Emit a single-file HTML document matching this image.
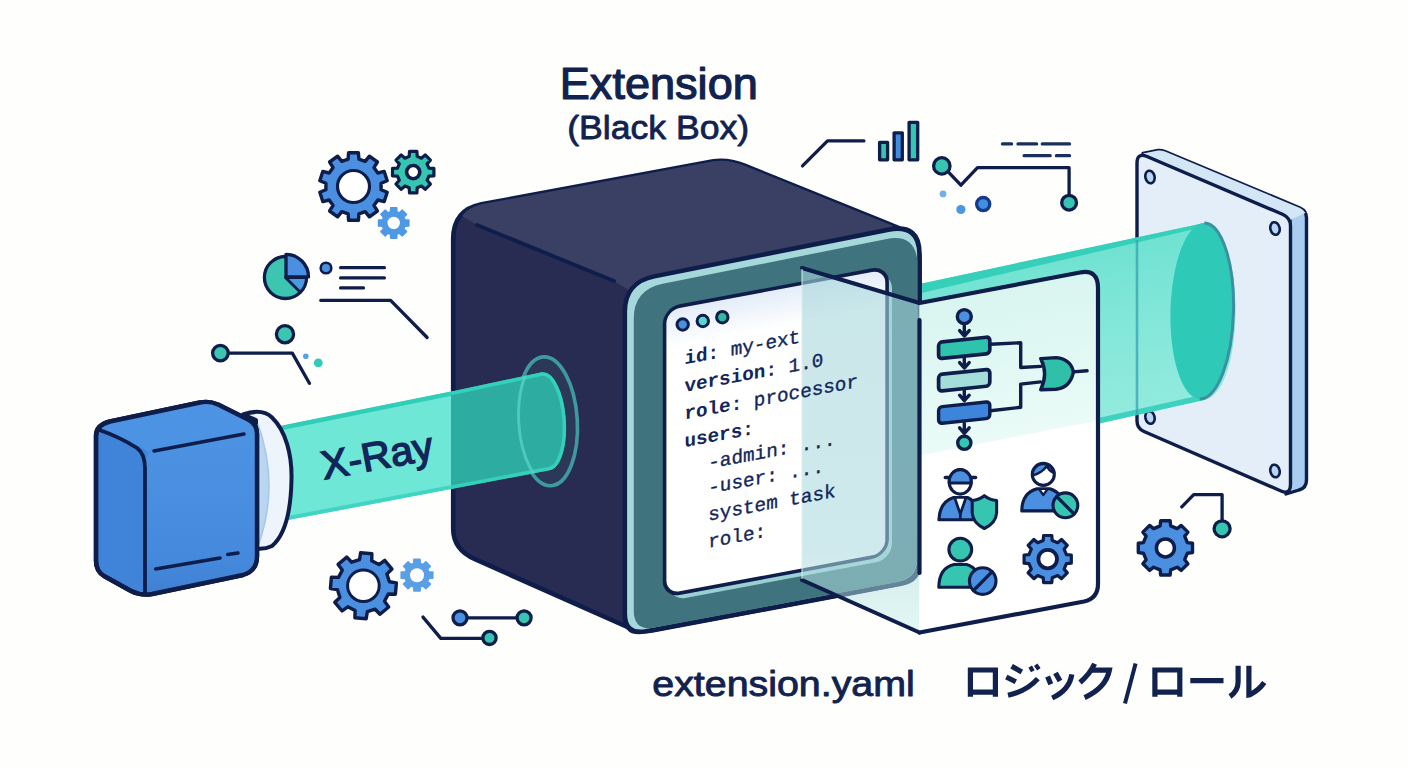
<!DOCTYPE html>
<html lang="en"><head><meta charset="utf-8"><title>Extension (Black Box)</title>
<style>
html,body{margin:0;padding:0;background:#fefefd;}
body{width:1408px;height:768px;overflow:hidden;font-family:"Liberation Sans",sans-serif;}
svg{display:block;}
</style></head><body>
<svg width="1408" height="768" viewBox="0 0 1408 768">
<rect width="1408" height="768" fill="#fefefd"/>
<defs>
<linearGradient id="beam1" x1="0" y1="0" x2="0.18" y2="1">
 <stop offset="0" stop-color="#3fd6c2"/><stop offset=".5" stop-color="#62e2d0"/><stop offset="1" stop-color="#7deadb"/>
</linearGradient>
<linearGradient id="beam2" x1="0" y1="0" x2="0.2" y2="1">
 <stop offset="0" stop-color="#62dfcd"/><stop offset=".45" stop-color="#7fe6d7"/><stop offset="1" stop-color="#97ecdf"/>
</linearGradient>
<linearGradient id="scr" x1="0" y1="0" x2="0" y2="1">
 <stop offset="0" stop-color="#e2ecf8"/><stop offset=".14" stop-color="#ffffff"/><stop offset="1" stop-color="#ffffff"/>
</linearGradient>
<linearGradient id="glassL" x1="0" y1="0" x2="0" y2="1">
 <stop offset="0" stop-color="#a6d6db" stop-opacity=".60"/><stop offset=".78" stop-color="#abdadf" stop-opacity=".57"/><stop offset=".9" stop-color="#b8e6e4" stop-opacity=".50"/><stop offset="1" stop-color="#c4eeea" stop-opacity=".45"/>
</linearGradient>
<linearGradient id="tint" x1="0" y1="0" x2="0.19" y2="1">
 <stop offset="0" stop-color="#d6f4ee"/><stop offset=".55" stop-color="#e0f8f3"/><stop offset="1" stop-color="#ecfbf8"/>
</linearGradient>
<linearGradient id="emit" x1="0" y1="0" x2="0" y2="1">
 <stop offset="0" stop-color="#4d93e3"/><stop offset=".8" stop-color="#4589dc"/><stop offset="1" stop-color="#3f80d2"/>
</linearGradient>
<clipPath id="beamclip"><path d="M451 391.6L542 372.3A20 49 -3.7 0 1 549.5 470.3L451 489Z"/></clipPath>
</defs>
<path d="M348.1 159.2 L348.6 152.7 L358.4 152.7 L358.9 159.2 L365.2 161.3 L369.4 156.2 L377.4 162.0 L373.9 167.6 L377.8 173.0 L384.2 171.4 L387.2 180.7 L381.1 183.2 L381.1 189.8 L387.2 192.3 L384.2 201.6 L377.8 200.0 L373.9 205.4 L377.4 211.0 L369.4 216.8 L365.2 211.7 L358.9 213.8 L358.4 220.3 L348.6 220.3 L348.1 213.8 L341.8 211.7 L337.6 216.8 L329.6 211.0 L333.1 205.4 L329.2 200.0 L322.8 201.6 L319.8 192.3 L325.9 189.8 L325.9 183.2 L319.8 180.7 L322.8 171.4 L329.2 173.0 L333.1 167.6 L329.6 162.0 L337.6 156.2 L341.8 161.3Z" fill="#4a8fe0" stroke="#0e1d4a" stroke-width="3.4" stroke-linejoin="round"/><circle cx="353.5" cy="186.5" r="16.0" fill="#fff" stroke="#0e1d4a" stroke-width="3.2"/>
<path d="M409.2 156.4 L409.5 151.4 L416.9 151.4 L417.2 156.4 L421.4 158.2 L425.2 154.9 L430.4 160.1 L427.1 163.9 L428.9 168.1 L433.9 168.4 L433.9 175.8 L428.9 176.1 L427.1 180.3 L430.4 184.1 L425.2 189.3 L421.4 186.0 L417.2 187.8 L416.9 192.8 L409.5 192.8 L409.2 187.8 L405.0 186.0 L401.2 189.3 L396.0 184.1 L399.3 180.3 L397.5 176.1 L392.5 175.8 L392.5 168.4 L397.5 168.1 L399.3 163.9 L396.0 160.1 L401.2 154.9 L405.0 158.2Z" fill="#35c5b0" stroke="#0e1d4a" stroke-width="3.2" stroke-linejoin="round"/><circle cx="413.2" cy="172.1" r="6.6" fill="#fff" stroke="#0e1d4a" stroke-width="3.6"/>
<path d="M390.6 211.8 L390.7 207.9 L396.7 207.9 L396.8 211.8 L399.4 212.9 L402.3 210.2 L406.5 214.4 L403.8 217.3 L404.9 219.9 L408.8 220.0 L408.8 226.0 L404.9 226.1 L403.8 228.7 L406.5 231.6 L402.3 235.8 L399.4 233.1 L396.8 234.2 L396.7 238.1 L390.7 238.1 L390.6 234.2 L388.0 233.1 L385.1 235.8 L380.9 231.6 L383.6 228.7 L382.5 226.1 L378.6 226.0 L378.6 220.0 L382.5 219.9 L383.6 217.3 L380.9 214.4 L385.1 210.2 L388.0 212.9Z" fill="#4f98e4" stroke="#4f98e4" stroke-width="1.6" stroke-linejoin="round"/><circle cx="393.7" cy="223.0" r="6.2" fill="#fff"/>
<path d="M359.5 559.7 L360.6 552.7 L371.9 553.7 L371.7 560.8 L379.0 564.6 L384.7 560.4 L392.0 569.1 L386.9 574.0 L389.4 581.8 L396.4 582.9 L395.4 594.2 L388.3 594.0 L384.5 601.3 L388.7 607.0 L380.0 614.3 L375.1 609.2 L367.3 611.7 L366.2 618.7 L354.9 617.7 L355.1 610.6 L347.8 606.8 L342.1 611.0 L334.8 602.3 L339.9 597.4 L337.4 589.6 L330.4 588.5 L331.4 577.2 L338.5 577.4 L342.3 570.1 L338.1 564.4 L346.8 557.1 L351.7 562.2Z" fill="#4a8fe0" stroke="#0e1d4a" stroke-width="3.4" stroke-linejoin="round"/><circle cx="363.4" cy="585.7" r="15.8" fill="#fff" stroke="#0e1d4a" stroke-width="3"/>
<path d="M413.8 563.4 L413.9 559.4 L420.1 559.4 L420.2 563.4 L423.0 564.6 L425.9 561.8 L430.4 566.3 L427.6 569.2 L428.8 572.0 L432.8 572.1 L432.8 578.3 L428.8 578.4 L427.6 581.2 L430.4 584.1 L425.9 588.6 L423.0 585.8 L420.2 587.0 L420.1 591.0 L413.9 591.0 L413.8 587.0 L411.0 585.8 L408.1 588.6 L403.6 584.1 L406.4 581.2 L405.2 578.4 L401.2 578.3 L401.2 572.1 L405.2 572.0 L406.4 569.2 L403.6 566.3 L408.1 561.8 L411.0 564.6Z" fill="#5a9fe6" stroke="#5a9fe6" stroke-width="1.6" stroke-linejoin="round"/><circle cx="417.0" cy="575.2" r="7.0" fill="#fff"/>
<path d="M1160.1 525.9 L1160.7 520.8 L1170.1 520.8 L1170.7 525.9 L1177.2 528.6 L1181.2 525.4 L1187.9 532.1 L1184.7 536.1 L1187.4 542.6 L1192.5 543.2 L1192.5 552.6 L1187.4 553.2 L1184.7 559.7 L1187.9 563.7 L1181.2 570.4 L1177.2 567.2 L1170.7 569.9 L1170.1 575.0 L1160.7 575.0 L1160.1 569.9 L1153.6 567.2 L1149.6 570.4 L1142.9 563.7 L1146.1 559.7 L1143.4 553.2 L1138.3 552.6 L1138.3 543.2 L1143.4 542.6 L1146.1 536.1 L1142.9 532.1 L1149.6 525.4 L1153.6 528.6Z" fill="#4a8fe0" stroke="#0e1d4a" stroke-width="3.4" stroke-linejoin="round"/><circle cx="1165.4" cy="547.9" r="9.0" fill="#fff" stroke="#0e1d4a" stroke-width="3.5"/>
<!-- ===== decorative line-art ===== -->
<g fill="none" stroke="#0e1d4a" stroke-width="3.3" stroke-linecap="round" stroke-linejoin="round">
  <!-- left: pie + lines -->
  <path d="M340.6 267.7H384.4M340.6 277.9H384.4M340.6 287.9H363.5"/>
  <path d="M320.8 300.4H390.6L427.1 337.5"/>
  <path d="M229.2 353.1H292.3L309.4 383.3"/>
  <!-- top right -->
  <path d="M802.5 165.9L827.5 140.9H863.9"/>
  <path d="M948 171.6L960.9 185.2L977.5 167.7H1069.1V194.3"/>
  <path d="M1002.5 143.9H1011.6M1018 143.9H1036.6M1042.3 143.9H1069.5M1024.1 155.7H1050.2M1056.4 155.7H1069.5" stroke="#1b2f5e"/>
  <!-- bottom left -->
  <path d="M468 617.8H516"/>
  <path d="M423 617.1L440.8 638.4H482.2"/>
  <!-- bottom right -->
  <path d="M1181.8 506.9L1193.7 494.6H1222.1V520"/>
</g>
<g stroke="#0e1d4a" stroke-width="3.3">
  <!-- pie chart -->
  <circle cx="285.4" cy="277.5" r="21" fill="#3cc6b2"/>
  <path d="M286 276.9V254.4A22.5 22.5 0 0 1 308.5 276.9Z" fill="#4a8fe0" stroke-linejoin="round"/>
  <path d="M285.4 277.5H306.4A21 21 0 0 1 300.3 292.3Z" fill="#4a9adf" stroke-linejoin="round" stroke-width="2.8"/>
  <circle cx="326" cy="268" r="5.3" fill="#4a8fe0" stroke-width="2.6"/>
  <circle cx="285" cy="334.2" r="8.6" fill="#3cc6b2"/>
  <circle cx="220.4" cy="353.1" r="7.8" fill="#3cc6b2"/>
  <!-- bars -->
  <rect x="879.6" y="142.3" width="8" height="17.5" fill="#35c5b0" stroke-linejoin="round"/>
  <rect x="894.1" y="132.8" width="8.2" height="27" fill="#3f8de0" stroke-linejoin="round"/>
  <rect x="909.1" y="122.3" width="8.6" height="37.5" fill="#35c5b0" stroke-linejoin="round"/>
  <circle cx="941.8" cy="165.9" r="8.2" fill="#35c5b0"/>
  <circle cx="1069.1" cy="202.7" r="7.4" fill="#35c5b0"/>
  <circle cx="983.2" cy="204.1" r="6.6" fill="#3f8fe2" stroke="#17398c"/>
  <!-- bottom left nodes -->
  <circle cx="460" cy="617.8" r="7" fill="#4a8fe0"/>
  <circle cx="524.1" cy="617.8" r="7" fill="#35c5b0"/>
  <circle cx="489.5" cy="637.9" r="6.6" fill="#35c5b0"/>
  <circle cx="1222.1" cy="528.8" r="8" fill="#35c5b0"/>
</g>
<circle cx="305.8" cy="356.3" r="2.8" fill="#5a9fe6"/>
<circle cx="318.3" cy="362.9" r="4.4" fill="#35c9b8"/>
<circle cx="943" cy="193.9" r="3.4" fill="#74b0e8"/>
<circle cx="960.9" cy="209.5" r="4.6" fill="#4a96e0"/>

<!-- ===== detector plate ===== -->
<g stroke="#0e1d4a" stroke-width="3.4" stroke-linejoin="round">
  <!-- side / thickness -->
  <path d="M1143 153.5L1158 150.5Q1161 150 1165 151.5L1300 208Q1306.5 211 1306.5 218V480Q1306.5 488 1299 490L1286 494L1290 220Z" fill="#a9cdf0"/>
  <path d="M1143 153.5L1158 150.5Q1161 150 1165 151.5L1300 208Q1304 210 1305.5 213L1290 220Z" fill="#d3e6f6" stroke="none"/>
  <!-- front face -->
  <path d="M1137 163Q1137 152.5 1147 156.5L1283 214.5Q1290.5 218 1290.5 226V484Q1290.5 495 1281 491L1144 431.5Q1137 428.5 1137 421Z" fill="#e3eef8"/>
</g>
<g fill="#b9d6f2" stroke="#0e1d4a" stroke-width="2.6">
  <ellipse cx="1150" cy="177" rx="4.6" ry="6.4" transform="rotate(-14 1150 177)"/>
  <ellipse cx="1275" cy="228.5" rx="4.6" ry="6.4" transform="rotate(-14 1275 228.5)"/>
  <ellipse cx="1150" cy="417.5" rx="4.6" ry="6.4" transform="rotate(-14 1150 417.5)"/>
  <ellipse cx="1275" cy="471" rx="4.6" ry="6.4" transform="rotate(-14 1275 471)"/>
</g>

<!-- ===== beam 2 (box -> plate) ===== -->
<path d="M915 285L1202 223.5A31 88 0 0 1 1207 399L915 464Z" fill="url(#beam2)"/>
<path d="M915 285L1202 223.5L1201 227.5L915 294.5Z" fill="#35cfba"/>
<path d="M1098 421L1205 397" stroke="#3dd2bf" stroke-width="5.5" fill="none"/>
<path d="M1137 240V415" stroke="#36a3b0" stroke-width="2.6" opacity=".75"/>
<ellipse cx="1202" cy="311" rx="31.5" ry="88" fill="#2ecab7" transform="rotate(1.5 1202 311)"/>
<path d="M1202 223A31.5 88 0 0 1 1202 399" fill="none" stroke="#3b90a2" stroke-width="3" transform="rotate(1.5 1202 311)"/>

<!-- ===== black box ===== -->
<!-- silhouette (left face colour) -->
<path id="boxsil" d="M453.2 239Q453.2 210 481.5 204.3L712 161.5Q728 159 744 165.5L893 225.7Q919.5 235 919.5 261V562Q919.5 580 902 583.5L652 630.5Q639.5 632.8 628.5 627.5L475 559.2Q453.2 549.5 453.2 529Z" fill="#282c53" stroke="#0e1d4a" stroke-width="4.6" stroke-linejoin="round"/>
<!-- top face -->
<path d="M462 216Q469 207 481.5 204.3L712 161.5Q728 159 744 165.5L893 225.7L888 230L657 276Q640 279 630 291L614 281L477 225Z" fill="#3a3f64"/>
<!-- ridge between top & left face -->
<path d="M477 225L614 281" stroke="#0e1d4a" stroke-width="3.8" stroke-linecap="round" fill="none"/>
<!-- front frame -->
<g transform="translate(624.8 282.2) skewY(-10.6)">
  <path d="M0 30Q0 0 30 -0.3L264 -3.2Q294.7 -3.5 294.7 27V331Q294.7 353 272.7 353H21Q0 353 0 332Z" fill="#a6d7db" stroke="#0e1d4a" stroke-width="4.6"/>
  <path d="M9 38Q9 9 38 8.6L262 5.8Q290 5.6 292.7 34V329Q292.7 351 270.5 351H30Q9 351 9 330Z" fill="#3f737d"/>
  <!-- inner bevel -->
  <rect x="44.5" y="40" width="222.7" height="287" rx="16" fill="#9acfd3"/>
  <!-- screen -->
  <rect x="39.8" y="34.2" width="222.5" height="287" rx="15" fill="url(#scr)" stroke="#0e1d4a" stroke-width="3.6"/>
</g>
<!-- window dots -->
<g stroke="#0e1d4a" stroke-width="3">
  <circle cx="682.7" cy="324.5" r="5.7" fill="#4a8fe0"/>
  <circle cx="702.8" cy="321" r="5.7" fill="#5ad7d0"/>
  <circle cx="722.3" cy="317.2" r="5.7" fill="#2fb9a2"/>
</g>

<!-- ===== beam 1 (emitter -> box) ===== -->
<!-- hole ring on left face -->
<ellipse cx="547.3" cy="421.3" rx="30" ry="64.5" fill="#2b3858" stroke="#3f9aa0" stroke-width="3.6" transform="rotate(-3.5 547.3 421.3)"/>
<!-- outside part -->
<path d="M270 428.3L453 391.2V488.6L285 520.5Z" fill="#6fe7d6"/>
<path d="M270 430.3L451 393.6" stroke="#30cdb9" stroke-width="4.5" fill="none"/>
<path d="M285 518.6L451 487.1" stroke="#3fd5c2" stroke-width="4" fill="none"/>
<!-- inside part (over dark face) -->
<path d="M451 391.6L542 372.3A20 49 -3.7 0 1 549.5 470.3L451 489Z" fill="#2dada1"/>
<path d="M451 393.4L542 374.1A18.5 47.3 -3.7 0 1 549.2 468.5L451 487.2" fill="none" stroke="#33d0bc" stroke-width="3.6"/>
<path d="M543.3 357A30 64.5 -3.5 0 0 551.2 485.6" fill="none" stroke="#56cfc3" stroke-width="3" opacity=".8" clip-path="url(#beamclip)"/>
<text transform="translate(324 479.5) rotate(-10.5)" font-family="'Liberation Sans', sans-serif" font-size="40" fill="#13265a" stroke="#13265a" stroke-width="1.4" textLength="113" lengthAdjust="spacingAndGlyphs">X-Ray</text>

<!-- ===== emitter ===== -->
<!-- lens -->
<path d="M243 414.5Q262 408 272 417.5C286 431 292 455 291.5 479C291 510 285 535 272 546Q265 549.5 256 548.5V420Z" fill="#edf4fc" stroke="#0e1d4a" stroke-width="4" stroke-linejoin="round"/>
<path d="M258 424Q280 486 258 546Z" fill="#b9d5ef"/>
<path d="M258 424Q280 486 258 546" fill="none" stroke="#a5c8ea" stroke-width="1.5"/>
<!-- body -->
<path d="M96 436Q96 425 110 421.5L200 402.5Q209 400.5 218 404.5L248 419.5Q257 424 257 434V556Q257 571 243 575L152 594Q141 596 131 591L104 576Q96 571 96 561Z" fill="#3f84d8" stroke="#0e1d4a" stroke-width="4.4" stroke-linejoin="round"/>
<!-- front face (lighter) -->
<path d="M146 462Q146 449 160 446L246 426Q257 424 257 434V556Q257 571 243 575L152 594Q146 595 146 588Z" fill="url(#emit)"/>
<!-- top face -->
<path d="M100 427Q104 422.5 110 421.5L200 402.5Q209 400.5 218 404.5L248 419.5Q252 421 254 425L160 446Q152 448 148 452Q140 446 132 443Z" fill="#4d93e3"/>
<path d="M98 429.5Q120 437 137 448Q145 454 145 468V594" fill="none" stroke="#0e1d4a" stroke-width="3.8" stroke-linecap="round"/>
<path d="M154 451L244 434M155.7 569L220 558M227.7 554.5L238 553" fill="none" stroke="#0e1d4a" stroke-width="3.4" stroke-linecap="round"/>
<!-- re-stroke outline -->
<path d="M96 436Q96 425 110 421.5L200 402.5Q209 400.5 218 404.5L248 419.5Q257 424 257 434V556Q257 571 243 575L152 594Q141 596 131 591L104 576Q96 571 96 561Z" fill="none" stroke="#0e1d4a" stroke-width="4.4" stroke-linejoin="round"/>

<!-- ===== glass panel ===== -->
<!-- left leaf (over screen) -->
<path d="M802 268L919.5 303V632.5L802 580Z" fill="url(#glassL)"/>
<path d="M802 268L919.5 303M802 580L919.5 632.5" fill="none" stroke="#0e1d4a" stroke-width="4" stroke-linecap="round"/>
<path d="M802 269V579" stroke="#d8f2f0" stroke-width="1.2" opacity=".8"/>
<!-- right leaf -->
<path id="leafR" d="M919.5 303L1080 272.5Q1098 269 1098 288V584Q1098 598.5 1084 601.5L919.5 632.5Z" fill="#ffffff"/>
<!-- teal tint where beam passes behind -->
<path d="M919.5 303L1080 272.5Q1098 269 1098 288V420.5L919.5 455.5Z" fill="url(#tint)"/>
<path d="M919.5 303L1080 272.5Q1098 269 1098 288V584Q1098 598.5 1084 601.5L919.5 632.5" fill="none" stroke="#0e1d4a" stroke-width="4.2" stroke-linejoin="round" stroke-linecap="round"/>
<path d="M919.5 320V573" stroke="#0e1d4a" stroke-width="4.2" stroke-linecap="round"/>

<!-- yaml text -->
<g transform="translate(684.4 -0.4) skewY(-10.6)" font-family="'Liberation Mono', monospace" font-size="19.3" fill="#13265a" stroke="#13265a" stroke-width=".350">
  <text x="0" y="364.7"><tspan font-weight="bold" stroke-width="0">id:</tspan> my-ext</text>
  <text x="0" y="392.3"><tspan font-weight="bold" stroke-width="0">version:</tspan> 1.0</text>
  <text x="0" y="420"><tspan font-weight="bold" stroke-width="0">role:</tspan> processor</text>
  <text x="0" y="447.6"><tspan font-weight="bold" stroke-width="0">users:</tspan></text>
  <text x="23.9" y="473.5">-admin: ...</text>
  <text x="23.9" y="498.5">-user: ...</text>
  <text x="23.9" y="525.5">system task</text>
  <text x="23.9" y="552.5">role:</text>
</g>

<!-- ===== flow chart ===== -->
<g stroke="#0e1d4a" stroke-width="3.4" stroke-linejoin="round" stroke-linecap="round" fill="none">
  <path d="M990.4 344.2L1020.7 342.7V367.5L1040.7 366.4"/>
  <path d="M990.4 410.7L1020.7 407.3V384.1L1040.7 381.9"/>
  <path d="M1073.2 371.9L1087.1 370.8"/>
  <path d="M964.3 324V335.5M959.6 330.6L964.3 336L969.2 330.6"/>
  <path d="M964.3 357.5V367.5M959.6 362.6L964.3 368L969.2 362.6"/>
  <path d="M964.3 390.5V400M959.6 395.2L964.3 400.6L969.2 395.2"/>
  <path d="M964.3 423.5V433M959.6 427.8L964.3 433.4L969.2 427.8"/>
  <circle cx="964.3" cy="316.6" r="7" fill="#4a8fe0"/>
  <circle cx="964.3" cy="442.8" r="6.6" fill="#35c5b0"/>
  <rect transform="translate(938.6 342.2) skewY(-5.96)" width="51.2" height="16.6" rx="3.6" fill="#2fc3ae" stroke-width="3.7"/>
  <rect transform="translate(938.6 374.6) skewY(-5.96)" width="51.2" height="16.6" rx="3.6" fill="#a3dedb" stroke-width="3.7"/>
  <rect transform="translate(938.6 407) skewY(-5.96)" width="51.2" height="16.6" rx="3.6" fill="#3d85da" stroke-width="3.4"/>
  <path d="M1040.7 358.6L1056 357.6Q1071 359 1073.4 372.2Q1070 388 1056 389.2L1040.7 389.7Q1048.5 374 1040.7 358.6Z" fill="#30bfa9"/>
</g>

<!-- ===== role icons ===== -->
<g stroke="#0e1d4a" stroke-width="3.1" stroke-linejoin="round" stroke-linecap="round">
  <!-- 1: admin w/ hard hat + shield -->
  <path d="M938.9 519.8Q939.5 502 953.5 497.5H967.5Q974 500 975.5 508V519.8Z" fill="#4a8fe0"/>
  <path d="M954.6 497.5L960.3 514L966 497.5Z" fill="#fff" stroke-width="2.7"/>
  <path d="M960.3 514V519" fill="none" stroke-width="2.7"/>
  <path d="M945.3 477.5H975.6" fill="none" stroke-width="3.4"/>
  <ellipse cx="960.2" cy="481.9" rx="11" ry="12.2" fill="#fff"/>
  <path d="M949.25 483A11 12.2 0 1 1 971.15 483Z" fill="#4a8fe0"/>
  <path d="M984.3 495.7Q979 500 972.2 500.5V513Q973 523 984.3 528.5Q996 523 996.6 513V500.5Q990 500 984.3 495.7Z" fill="#35c5b0"/>
  <!-- 2: user w/ block -->
  <path d="M1021.8 510.9Q1022 493 1037 488.8H1049.8Q1064 493 1064 510.9Z" fill="#4a8fe0"/>
  <path d="M1039 489L1043.3 495L1047.6 489Z" fill="#fff" stroke-width="2.2"/>
  <circle cx="1043.3" cy="474.4" r="11" fill="#fff"/>
  <path d="M1032.4 475.6A11 11 0 0 1 1054.2 473Q1048 470 1047 466Q1041 473.5 1032.4 475.6Z" fill="#4a8fe0" stroke-width="2.6"/>
  <circle cx="1065.4" cy="505.3" r="12.4" fill="#35c5b0"/>
  <path d="M1056.8 496.7L1074 513.9" fill="none" stroke-width="3.3"/>
  <!-- 3: teal user w/ blue block -->
  <path d="M938.8 587.3Q939 568 954 564.5H966.5Q980 568 980 587.3Z" fill="#35c5b0"/>
  <circle cx="960.3" cy="549.6" r="11.4" fill="#35c5b0"/>
  <circle cx="982.7" cy="581.1" r="13.3" fill="#4a8fe0"/>
  <path d="M973.5 590.5L991.9 571.8" fill="none" stroke-width="3.3"/>
</g>

<path d="M1043.2 540.4 L1043.6 535.5 L1051.8 535.5 L1052.2 540.4 L1057.7 542.7 L1061.5 539.5 L1067.3 545.3 L1064.1 549.1 L1066.4 554.6 L1071.3 555.0 L1071.3 563.2 L1066.4 563.6 L1064.1 569.1 L1067.3 572.9 L1061.5 578.7 L1057.7 575.5 L1052.2 577.8 L1051.8 582.7 L1043.6 582.7 L1043.2 577.8 L1037.7 575.5 L1033.9 578.7 L1028.1 572.9 L1031.3 569.1 L1029.0 563.6 L1024.1 563.2 L1024.1 555.0 L1029.0 554.6 L1031.3 549.1 L1028.1 545.3 L1033.9 539.5 L1037.7 542.7Z" fill="#4a8fe0" stroke="#0e1d4a" stroke-width="3.2" stroke-linejoin="round"/><circle cx="1047.7" cy="559.1" r="9.3" fill="#fff" stroke="#0e1d4a" stroke-width="3.8"/>
<!-- ===== titles / labels ===== -->
<g font-family="'Liberation Sans', sans-serif" fill="#11224f" stroke="#11224f" stroke-linejoin="round">
  <text x="559.8" y="98.6" font-size="43.5" stroke-width="1.2" textLength="198" lengthAdjust="spacingAndGlyphs">Extension</text>
  <text x="567.2" y="139.3" font-size="33" stroke-width=".800" textLength="182" lengthAdjust="spacingAndGlyphs">(Black Box)</text>
  <text x="652.3" y="695.8" font-size="35.5" stroke-width=".900" textLength="262.5" lengthAdjust="spacingAndGlyphs">extension.yaml</text>
</g>
<!-- katakana: ロジック / ロール (drawn as strokes) -->
<g fill="none" stroke="#11224f" stroke-width="5.2" stroke-linejoin="miter" stroke-linecap="butt">
  <!-- ロ -->
  <path d="M970.4 696.7V670H995.4V696.7M970.4 692.2H995.4"/>
  <!-- ジ -->
  <path d="M1011.6 666.2L1021.8 672M1006.3 677L1015.8 681.8"/>
  <path d="M1008 695.3Q1027 691 1037.8 678.6"/>
  <path d="M1030.2 666.6L1032.8 671.2M1035.7 664.8L1038.9 669.2" stroke-width="4.2"/>
  <!-- ッ -->
  <path d="M1047.6 676.4L1050.8 684.3M1055.5 673L1060 681"/>
  <path d="M1071.8 674.4Q1069.5 690 1052.2 698"/>
  <!-- ク -->
  <path d="M1094.6 663.8Q1090 674 1080 682.5"/>
  <path d="M1091 670.1H1109.4Q1106 688 1084.6 697.6"/>
  <!-- / -->
  <path d="M1135.6 663.6L1125 703.4" stroke-width="4"/>
  <!-- ロ -->
  <path d="M1154.9 696.7V670H1179.8V696.7M1154.9 692.2H1179.8"/>
  <!-- ー -->
  <path d="M1190.3 680.7H1223.5"/>
  <!-- ル -->
  <path d="M1238.1 665.7V682Q1238 691 1230 696.5"/>
  <path d="M1248.9 665.7V695L1250 694.8Q1259 690 1264.3 682.5"/>
</g>

</svg>
</body></html>
